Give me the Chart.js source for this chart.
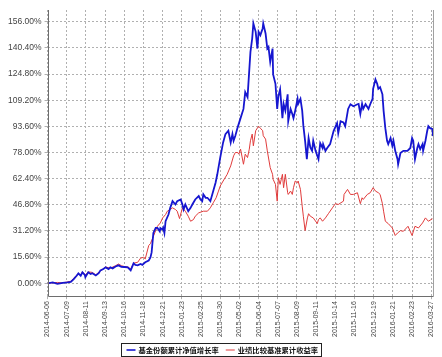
<!DOCTYPE html>
<html><head><meta charset="utf-8">
<script src="https://cdn.jsdelivr.net/npm/chart.js@4/dist/chart.umd.min.js"></script>
<style>html,body{margin:0;padding:0;background:#fff;}canvas{display:block;}</style>
</head><body>
<canvas id="c" width="442" height="357"></canvas>
<script>
// Day offsets from 2014-06-06
const xTickDays = [0,33,66,99,132,165,198,231,264,297,330,363,396,429,462,495,528,561,594,627,660];
const xTickLabels = ['2014-06-06','2014-07-09','2014-08-11','2014-09-13','2014-10-16','2014-11-18','2014-12-21','2015-01-23','2015-02-25','2015-03-30','2015-05-02','2015-06-04','2015-07-07','2015-08-09','2015-09-11','2015-10-14','2015-11-16','2015-12-19','2016-01-21','2016-02-23','2016-03-27'];
const yTickValues = [0,15.6,31.2,46.8,62.4,78,93.6,109.2,124.8,140.4,156];
const seriesNames = ['基金份额累计净值增长率','业绩比较基准累计收益率'];
const seriesColors = ['#1616d0','#e03c3c'];

const fundDays = [0,9,17,26,34,40,45,50,53,57,60,64,65,70,74,77,83,88,91,96,100,105,108,112,117,122,127,132,138,143,148,151,155,160,163,168,174,177,179,182,186,189,193,194,198,199,201,203,208,211,215,220,223,229,232,234,237,242,246,249,254,260,263,266,268,272,275,280,285,289,292,297,302,306,311,315,318,320,323,327,332,337,340,344,349,352,354,358,361,363,366,370,371,375,378,380,383,387,388,392,395,397,400,404,406,409,413,414,418,421,423,426,430,431,435,438,440,443,446,449,452,455,457,461,466,469,473,474,478,481,486,492,498,500,504,509,512,517,521,526,533,535,538,541,543,547,552,555,559,560,564,567,569,572,576,578,581,584,586,590,593,595,598,602,603,607,612,619,624,627,629,632,636,638,641,645,646,650,653,655,658,662,663];
const fundValues = [0,0.5,-0.3,0.2,0.5,0.8,2.5,4.5,5.9,4.5,6.5,5,3.6,6.5,5.5,6,4.7,6,7.7,8.5,9.5,8.5,9.5,8.9,10,10.7,9.8,9.7,9.5,7.7,11.9,11,10.7,11.5,11,12.5,13.6,15.4,18.4,30,33,33,31,33,32,33,30,37,41,45,49,47,49,50,47,44,47,43,45,47,50,52,50,49,53,51,51,49,55,60,65,75,84,89,91,84,89,85,88,93,98.5,104,114,111,138,146,155,150,140,150,148,152,155,149,140,141,132,140,124.6,119,104,111.5,115.7,98.5,107,103,112.7,96.7,104,101,98.5,103,110,107,110,103,94,85,74,86.6,81,79,85,79,74,83.6,80.7,83,79,80.7,83,90.8,95.5,89.6,96.7,96,93.7,104,106.8,105.6,106.8,107,101,107,104,106.8,104,106.8,110,116,121.6,119,116,117,112.7,103,92.5,85,83,86.6,82,85,79,74,71,77.7,79,79,80.7,86.6,85,74,80.7,83,80,83,79,85,90.8,93.7,92.5,92,87.8];

const benchDays = [0,9,17,26,34,40,45,50,53,57,60,65,70,77,83,91,100,108,117,122,127,132,138,143,148,155,160,165,168,174,177,182,189,194,198,203,206,211,215,220,223,227,232,237,242,246,251,254,260,268,275,280,285,290,294,297,302,309,315,320,323,327,329,332,337,340,344,347,349,352,354,358,363,366,370,371,375,378,383,387,388,392,395,397,400,404,406,409,413,414,418,421,423,426,430,431,435,438,440,443,447,449,452,457,464,466,469,473,478,483,490,495,500,509,510,516,521,526,533,538,541,543,550,555,560,564,569,572,576,578,581,586,593,598,602,607,612,620,627,632,638,645,650,655,662,663];
const benchValues = [0,0.3,0.5,0.2,0.8,1.2,3,4.8,5.5,5,6.8,5,6.8,6.5,5,7.5,9.7,9,10.5,11.5,10.5,10,9.8,8.5,12,12.5,15,15.5,14.5,22.5,23.7,28,34,36,39,41,43,44,45,44,43,38.6,45,43,40,37,38,40,42,43,43,45,48,51,55,58,61,65,70,76,78,78,77,80,71,77,75,80,85,89,82,91,93.7,92.5,91,88,86,79,69,65,62,59,49,63,59,65,57,65,54,53,55,53,57,61,60,61,56,46,40,31.4,39,41.5,40,39,35.6,38,39,37,39,41.5,45,47.5,47,49,53,56,53,53,54,47.5,51,50,53,54,57,55,54,53,47.5,43,37,35.6,33,28.5,30,31.4,31,34,28.5,34,33,36,39,37,38.5];

function pts(xs, ys){ return xs.map((d,i)=>({x:d,y:ys[i]})); }

const framePlugin = {
  id:'framePlugin',
  afterDraw(chart){
    const ctx = chart.ctx, a = chart.chartArea;
    ctx.save();
    ctx.setLineDash([]);
    ctx.lineWidth = 1;
    // axes
    ctx.strokeStyle = '#6e6e6e';
    const L = Math.round(a.left)+0.5, B = Math.round(a.bottom)+0.5, R = Math.round(a.right)+0.5;
    ctx.beginPath(); ctx.moveTo(L, a.top); ctx.lineTo(L, B); ctx.lineTo(R, B); ctx.stroke();
    ctx.strokeStyle = '#a0a0a0';
    ctx.beginPath(); ctx.moveTo(R, a.top); ctx.lineTo(R, B); ctx.stroke();
    // legend
    ctx.font = 'bold 7.3px "Noto Sans CJK SC"';
    ctx.textBaseline = 'middle';
    const w0 = ctx.measureText(seriesNames[0]).width, w1 = ctx.measureText(seriesNames[1]).width;
    const lineW = 9, g1 = 3, g2 = 7, pad = 5;
    const W = pad + lineW + g1 + w0 + g2 + lineW + g1 + w1 + 3;
    const left = Math.round(221 - W/2) + 0.5, top = 343.5, H = 13;
    ctx.fillStyle = '#fff'; ctx.fillRect(left, top, W, H);
    ctx.strokeStyle = '#222'; ctx.strokeRect(left, top, Math.round(W), H);
    const cy = top + H/2;
    let x = left + pad;
    [w0, w1].forEach((tw, i) => {
      ctx.strokeStyle = seriesColors[i]; ctx.lineWidth = i === 0 ? 1.6 : 1;
      ctx.beginPath(); ctx.moveTo(x, cy); ctx.lineTo(x + lineW, cy); ctx.stroke();
      x += lineW + g1;
      ctx.fillStyle = '#111'; ctx.fillText(seriesNames[i], x, cy + 0.5);
      x += tw + g2;
    });
    ctx.restore();
  }
};

new Chart(document.getElementById('c'), {
  type:'line',
  data:{ datasets:[
    {label:seriesNames[0], data:pts(fundDays,fundValues), borderColor:seriesColors[0], borderWidth:1.8, pointRadius:0, tension:0},
    {label:seriesNames[1], data:pts(benchDays,benchValues), borderColor:seriesColors[1], borderWidth:1, pointRadius:0, tension:0}
  ]},
  options:{
    responsive:false, animation:false,
    layout:{padding:{left:5,right:9,top:10,bottom:18}},
    plugins:{ legend:{display:false}, tooltip:{enabled:false} },
    scales:{
      x:{type:'linear', min:0, max:663,
        afterBuildTicks(ax){ ax.ticks = xTickDays.map(v=>({value:v})); },
        ticks:{autoSkip:false, maxRotation:90, minRotation:90, padding:2, color:'#444', font:{family:'"Liberation Sans"', size:7},
          callback(v){ const i = xTickDays.indexOf(v); return i>=0 ? xTickLabels[i] : ''; }},
        grid:{color:'#b0b0b0', lineWidth:1, tickLength:3},
        border:{display:false, dash:[2,2]}
      },
      y:{min:-7.7, max:163,
        afterBuildTicks(ax){ ax.ticks = yTickValues.map(v=>({value:v})); },
        ticks:{padding:3, color:'#444', font:{family:'"Liberation Sans"', size:8.5},
          callback(v){ return v.toFixed(2)+'%'; }},
        grid:{color:'#b0b0b0', lineWidth:1, tickLength:3},
        border:{display:false, dash:[2,2]}
      }
    }
  },
  plugins:[framePlugin]
});
</script>
</body></html>
